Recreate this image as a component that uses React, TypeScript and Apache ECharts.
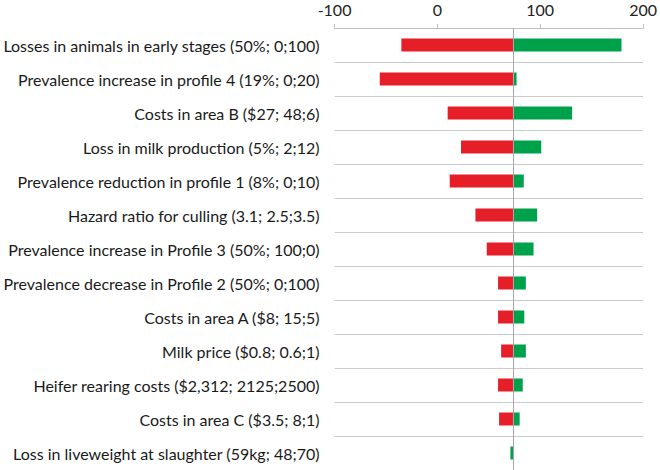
import React, { useEffect, useRef } from "react";
import * as echarts from "echarts";

const categories = [
  "Losses in animals in early stages (50%; 0;100)",
  "Prevalence increase in profile 4 (19%; 0;20)",
  "Costs in area B ($27; 48;6)",
  "Loss in milk production (5%; 2;12)",
  "Prevalence reduction in profile 1 (8%; 0;10)",
  "Hazard ratio for culling (3.1; 2.5;3.5)",
  "Prevalence increase in Profile 3 (50%; 100;0)",
  "Prevalence decrease in Profile 2 (50%; 0;100)",
  "Costs in area A ($8; 15;5)",
  "Milk price ($0.8; 0.6;1)",
  "Heifer rearing costs ($2,312; 2125;2500)",
  "Costs in area C ($3.5; 8;1)",
  "Loss in liveweight at slaughter (59kg; 48;70)",
];

const baseValue = 73.5;
const lowValues = [-35, -56, 10, 23, 12, 37, 48, 59, 59, 62, 59, 60, 73.5];
const highValues = [179, 77, 131, 101, 84, 97, 93.5, 86, 84.5, 86, 83, 80, 71];
const xTicks = [-100, 0, 100, 200];

const FONT = "Lato, 'Open Sans', sans-serif";

export default function App() {
  const ref = useRef<HTMLDivElement>(null);
  useEffect(() => {
    if (!ref.current) return;
    const chart = echarts.init(ref.current, null, { renderer: "svg" });
    const placeholder = lowValues.map((v) => v);
    const redPart = lowValues.map((v) => +(baseValue - v).toFixed(2));
    const greenPart = highValues.map((v) => +(v - baseValue).toFixed(2));
    chart.setOption({
      animation: false,
      textStyle: { fontFamily: FONT },
      grid: { left: 327, right: 13, top: 28, bottom: 0, containLabel: false },
      xAxis: {
        type: "value",
        position: "top",
        min: xTicks[0],
        max: xTicks[xTicks.length - 1],
        interval: 100,
        axisLine: { show: true, lineStyle: { color: "#bfbfbf", width: 1 } },
        axisTick: { show: true, length: 4, lineStyle: { color: "#bfbfbf" } },
        axisLabel: { color: "#222", fontSize: 16, margin: 11, fontFamily: FONT },
        splitLine: { show: false },
      },
      yAxis: {
        type: "category",
        inverse: true,
        data: categories,
        axisLine: { show: false },
        axisTick: { show: false },
        axisLabel: { color: "#1a1a1a", fontSize: 16, margin: 15, fontFamily: FONT },
        splitLine: { show: true, lineStyle: { color: "#cccccc", width: 1 } },
      },
      series: [
        {
          type: "bar",
          stack: "t",
          stackStrategy: "all",
          data: placeholder,
          barWidth: 13,
          itemStyle: { color: "transparent" },
          silent: true,
          markLine: {
            silent: true,
            symbol: "none",
            label: { show: false },
            lineStyle: { color: "#a6a6a6", type: "solid", width: 1 },
            data: [{ xAxis: baseValue }],
          },
        },
        {
          type: "bar",
          stack: "t",
          stackStrategy: "all",
          data: redPart,
          barWidth: 13,
          itemStyle: { color: "#E61E28" },
        },
        {
          type: "bar",
          stack: "t",
          stackStrategy: "all",
          data: greenPart,
          barWidth: 13,
          itemStyle: { color: "#00A14B" },
        },
      ],
    });
    return () => chart.dispose();
  }, []);
  return (
    <div
      ref={ref}
      style={{ position: "fixed", left: 0, top: 0, width: 660, height: 470, background: "#fff" }}
    />
  );
}
